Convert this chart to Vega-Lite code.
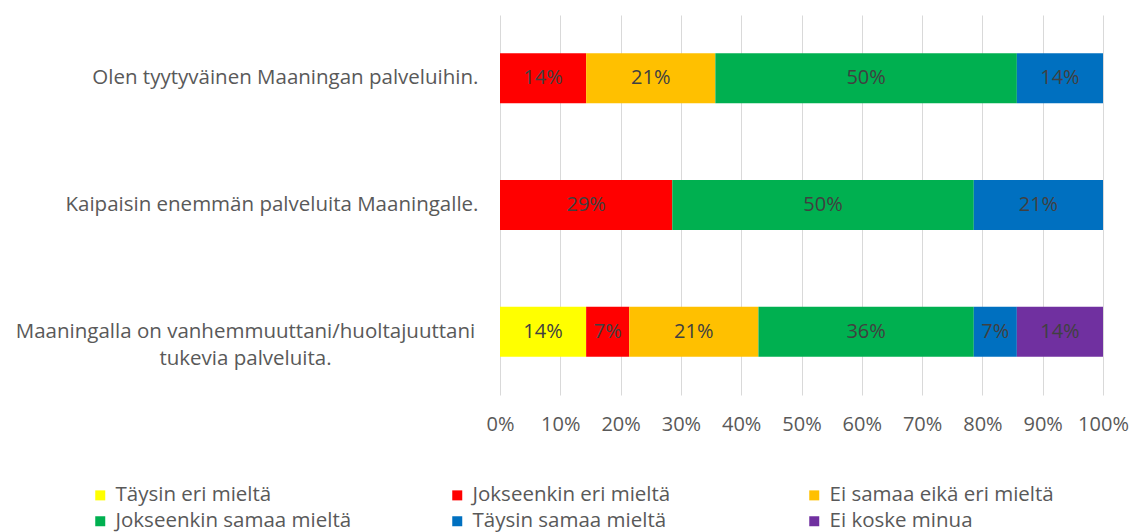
{
  "$schema": "https://vega.github.io/schema/vega-lite/v6.json",
  "width": 603,
  "height": 380,
  "autosize": {"type": "none"},
  "padding": {"left": 500, "top": 15, "right": 33, "bottom": 137},
  "background": "white",
  "config": {
    "view": {"stroke": null},
    "font": "Open Sans"
  },
  "data": {
    "values": [
      {"q": "Olen tyytyväinen Maaningan palveluihin.", "answer": "Jokseenkin eri mieltä", "o": 2, "share": 0.142857},
      {"q": "Olen tyytyväinen Maaningan palveluihin.", "answer": "Ei samaa eikä eri mieltä", "o": 3, "share": 0.214286},
      {"q": "Olen tyytyväinen Maaningan palveluihin.", "answer": "Jokseenkin samaa mieltä", "o": 4, "share": 0.5},
      {"q": "Olen tyytyväinen Maaningan palveluihin.", "answer": "Täysin samaa mieltä", "o": 5, "share": 0.142857},
      {"q": "Kaipaisin enemmän palveluita Maaningalle.", "answer": "Jokseenkin eri mieltä", "o": 2, "share": 0.285714},
      {"q": "Kaipaisin enemmän palveluita Maaningalle.", "answer": "Jokseenkin samaa mieltä", "o": 4, "share": 0.5},
      {"q": "Kaipaisin enemmän palveluita Maaningalle.", "answer": "Täysin samaa mieltä", "o": 5, "share": 0.214286},
      {"q": "Maaningalla on vanhemmuuttani/huoltajuuttani tukevia palveluita.", "answer": "Täysin eri mieltä", "o": 1, "share": 0.142857},
      {"q": "Maaningalla on vanhemmuuttani/huoltajuuttani tukevia palveluita.", "answer": "Jokseenkin eri mieltä", "o": 2, "share": 0.071429},
      {"q": "Maaningalla on vanhemmuuttani/huoltajuuttani tukevia palveluita.", "answer": "Ei samaa eikä eri mieltä", "o": 3, "share": 0.214286},
      {"q": "Maaningalla on vanhemmuuttani/huoltajuuttani tukevia palveluita.", "answer": "Jokseenkin samaa mieltä", "o": 4, "share": 0.357143},
      {"q": "Maaningalla on vanhemmuuttani/huoltajuuttani tukevia palveluita.", "answer": "Täysin samaa mieltä", "o": 5, "share": 0.071429},
      {"q": "Maaningalla on vanhemmuuttani/huoltajuuttani tukevia palveluita.", "answer": "Ei koske minua", "o": 6, "share": 0.142857}
    ]
  },
  "encoding": {
    "y": {
      "field": "q",
      "type": "nominal",
      "sort": ["Olen tyytyväinen Maaningan palveluihin.", "Kaipaisin enemmän palveluita Maaningalle.", "Maaningalla on vanhemmuuttani/huoltajuuttani tukevia palveluita."],
      "scale": {"paddingInner": 0.605, "paddingOuter": 0.3025},
      "axis": {
        "title": null,
        "domain": false,
        "ticks": false,
        "tickSize": 0,
        "grid": false,
        "labelFont": "Open Sans",
        "labelFontSize": 20.5,
        "labelColor": "#595959",
        "labelLimit": 600,
        "labelLineHeight": 27,
        "labelExpr": "indexof(datum.value, 'tukevia') >= 0 ? ['Maaningalla on vanhemmuuttani/huoltajuuttani', 'tukevia palveluita.'] : datum.value",
        "labelAlign": {"condition": {"test": "indexof(datum.value, 'tukevia') >= 0", "value": "center"}, "value": "right"},
        "labelPadding": {"condition": {"test": "indexof(datum.value, 'tukevia') >= 0", "value": 255}, "value": 22}
      }
    },
    "x": {
      "field": "share",
      "type": "quantitative",
      "stack": "zero",
      "scale": {"domain": [0, 1], "nice": false},
      "axis": {
        "title": null,
        "format": ".0%",
        "values": [0, 0.1, 0.2, 0.3, 0.4, 0.5, 0.6, 0.7, 0.8, 0.9, 1],
        "domain": false,
        "ticks": false,
        "tickSize": 0,
        "labelPadding": 19,
        "labelOverlap": false,
        "labelFlush": false,
        "labelBound": false,
        "labelFont": "Open Sans",
        "labelFontSize": 20,
        "labelColor": "#595959",
        "gridColor": "#d9d9d9",
        "gridWidth": 1
      }
    },
    "order": {"field": "o", "type": "quantitative"}
  },
  "layer": [
    {
      "mark": {"type": "bar"},
      "encoding": {
        "color": {
          "field": "answer",
          "type": "nominal",
          "scale": {
            "domain": ["Täysin eri mieltä", "Jokseenkin eri mieltä", "Ei samaa eikä eri mieltä", "Jokseenkin samaa mieltä", "Täysin samaa mieltä", "Ei koske minua"],
            "range": ["#FFFF00", "#FF0000", "#FFC000", "#00B050", "#0070C0", "#7030A0"]
          },
          "legend": {
            "title": null,
            "orient": "none",
            "legendX": -410,
            "legendY": 470,
            "columns": 3,
            "direction": "horizontal",
            "gridAlign": "all",
            "columnPadding": 95,
            "rowPadding": 5,
            "symbolType": "square",
            "symbolSize": 100,
            "symbolStrokeWidth": 0,
            "labelOffset": 5,
            "labelFont": "Open Sans",
            "labelFontSize": 20.5,
            "labelColor": "#595959",
            "labelLimit": 400
          }
        }
      }
    },
    {
      "mark": {"type": "text", "font": "Open Sans", "fontSize": 20, "color": "#404040", "baseline": "middle", "align": "center"},
      "encoding": {
        "x": {"field": "share", "type": "quantitative", "stack": "zero", "bandPosition": 0.5},
        "text": {"field": "share", "type": "quantitative", "format": ".0%"}
      }
    }
  ]
}
